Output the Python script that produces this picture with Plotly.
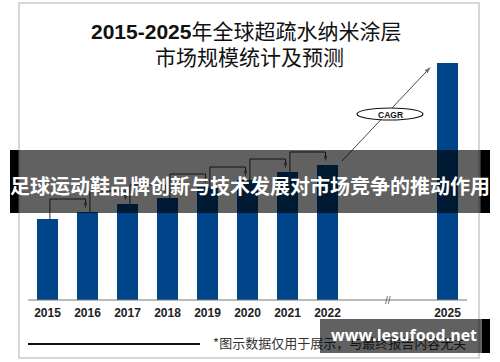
import plotly.graph_objects as go

# ---------------- data ----------------
years = [2015, 2016, 2017, 2018, 2019, 2020, 2021, 2022, 2025]
tick_labels = ["2015", "2016", "2017", "2018", "2019", "2020", "2021", "2022", "2025"]
market_size = [8.1, 8.8, 9.6, 10.2, 11.3, 12.0, 12.8, 13.5, 23.7]

title_line1 = "<b>2015-2025</b>年全球超疏水纳米涂层"
title_line2 = "市场规模统计及预测"
banner_text = "足球运动鞋品牌创新与技术发展对市场竞争的推动作用"
footer_text = "*图示数据仅用于展示，与最终报告内容无关"
watermark_text = "www.lesufood.net"
cagr_label = "CAGR"

W, H = 500, 362
BAR_COLOR = "#00458a"
LINE_COLOR = "#333333"
CJK = "Noto Sans CJK SC"


def px(x):
    return x / W


def py(y):
    return 1 - y / H


fig = go.Figure()

fig.add_trace(go.Bar(
    x=years, y=market_size, width=0.525,
    marker=dict(color=BAR_COLOR, line=dict(width=0)),
    hoverinfo="skip",
))

# step connectors between consecutive years
for i in range(len(years) - 1):
    if years[i + 1] - years[i] != 1:
        continue
    x0 = years[i] + 0.06
    x1 = years[i + 1] - 0.05
    level = market_size[i + 1] + 1.3
    fig.add_trace(go.Scatter(
        x=[x0, x0, x1, x1],
        y=[market_size[i], level, level, market_size[i + 1] + 0.35],
        mode="lines+markers",
        line=dict(color=LINE_COLOR, width=1),
        marker=dict(symbol="arrow", size=[0, 0, 0, 6], angleref="previous",
                    color=LINE_COLOR, line=dict(width=0)),
        hoverinfo="skip",
    ))

# CAGR arrow from the last actual bar to the forecast bar
fig.add_trace(go.Scatter(
    x=[years[-2] + 0.36, years[-1] - 0.42],
    y=[market_size[-2] + 0.4, market_size[-1] - 0.4],
    mode="lines+markers",
    line=dict(color=LINE_COLOR, width=0.9),
    marker=dict(symbol="arrow", size=[0, 7], angleref="previous",
                color=LINE_COLOR, line=dict(width=0)),
    hoverinfo="skip",
))

# footer note (drawn as a trace so the watermark box sits over it)
fig.add_trace(go.Scatter(
    x=[2019.14], y=[-4.45], mode="text", text=[footer_text],
    textposition="middle right",
    textfont=dict(family=CJK, size=13, color="#333333"),
    hoverinfo="skip", cliponaxis=False,
))

shapes = []
# outer frame
shapes.append(dict(type="rect", xref="paper", yref="paper",
                   x0=px(19), x1=px(479), y0=py(358), y1=py(3),
                   line=dict(color="#c9c9c9", width=1.5), layer="below"))
# axis baseline
shapes.append(dict(type="line", xref="paper", yref="y",
                   x0=px(28), x1=px(467), y0=0, y1=0,
                   line=dict(color="#777777", width=1), layer="above"))
# footer rule
shapes.append(dict(type="line", xref="paper", yref="paper",
                   x0=px(28), x1=px(200), y0=py(344), y1=py(344),
                   line=dict(color="#111111", width=2)))
# CAGR ellipse
shapes.append(dict(type="circle", xref="paper", yref="paper",
                   x0=px(357), x1=px(423), y0=py(120), y1=py(108),
                   fillcolor="white", line=dict(color="#111111", width=1.2)))
# banner
shapes.append(dict(type="rect", xref="paper", yref="paper",
                   x0=px(10), x1=px(490), y0=py(213), y1=py(150),
                   fillcolor="rgba(0,0,0,0.62)", line=dict(width=0)))
shapes.append(dict(type="rect", xref="paper", yref="paper",
                   x0=px(10), x1=px(18.5), y0=py(213), y1=py(150),
                   fillcolor="black", line=dict(width=0)))
shapes.append(dict(type="rect", xref="paper", yref="paper",
                   x0=px(480.5), x1=px(490), y0=py(213), y1=py(150),
                   fillcolor="black", line=dict(width=0)))
# watermark box
shapes.append(dict(type="rect", xref="paper", yref="paper",
                   x0=px(320), x1=px(490), y0=py(353), y1=py(319),
                   fillcolor="rgba(0,0,0,0.62)", line=dict(width=0)))
shapes.append(dict(type="rect", xref="paper", yref="paper",
                   x0=px(482), x1=px(490), y0=py(353), y1=py(319),
                   fillcolor="black", line=dict(width=0)))

annotations = [
    dict(text=title_line1, x=px(246), y=py(31), xref="paper", yref="paper",
         showarrow=False, xanchor="center", yanchor="middle",
         font=dict(family="Liberation Sans, " + CJK, size=21, color="#111111")),
    dict(text=title_line2, x=px(249), y=py(56), xref="paper", yref="paper",
         showarrow=False, xanchor="center", yanchor="middle",
         font=dict(family=CJK, size=21, color="#111111")),
    dict(text="<b>" + cagr_label + "</b>", x=px(390), y=py(114.5), xref="paper", yref="paper",
         showarrow=False, xanchor="center", yanchor="middle",
         font=dict(family="Liberation Sans", size=8.5, color="#111111")),
    dict(text="//", x=(years[-2] + years[-1]) / 2, y=0, xref="x", yref="y",
         showarrow=False, xanchor="center", yanchor="middle",
         font=dict(family="Liberation Sans", size=10, color="#555555")),
    dict(text="<b>" + banner_text + "</b>", x=px(250), y=py(185), xref="paper", yref="paper",
         showarrow=False, xanchor="center", yanchor="middle",
         font=dict(family=CJK, size=20, color="white")),
    dict(text="<b>" + watermark_text + "</b>", x=px(404), y=py(335), xref="paper", yref="paper",
         showarrow=False, xanchor="center", yanchor="middle",
         font=dict(family="Open Sans", size=16, color="white")),
]

fig.update_layout(
    width=W, height=H,
    margin=dict(l=0, r=0, t=0, b=0),
    paper_bgcolor="white", plot_bgcolor="white",
    showlegend=False,
    bargap=0,
    shapes=shapes,
    annotations=annotations,
    xaxis=dict(
        range=[2013.8125, 2026.3125],
        tickmode="array", tickvals=years, ticktext=tick_labels,
        tickfont=dict(family="Liberation Sans", size=12, color="#222222", weight="bold"),
        showgrid=False, zeroline=False, showline=False, ticks="",
        ticklabelstandoff=4,
        anchor="free", position=62 / H, fixedrange=True,
    ),
    yaxis=dict(
        range=[-6.2, 30.0], domain=[0, 1], visible=False,
        showgrid=False, zeroline=False, fixedrange=True,
    ),
)

fig.write_html(
    "out.html",
    config={"displayModeBar": False},
    post_script="document.body.style.margin='0';document.body.style.overflow='hidden';",
)
